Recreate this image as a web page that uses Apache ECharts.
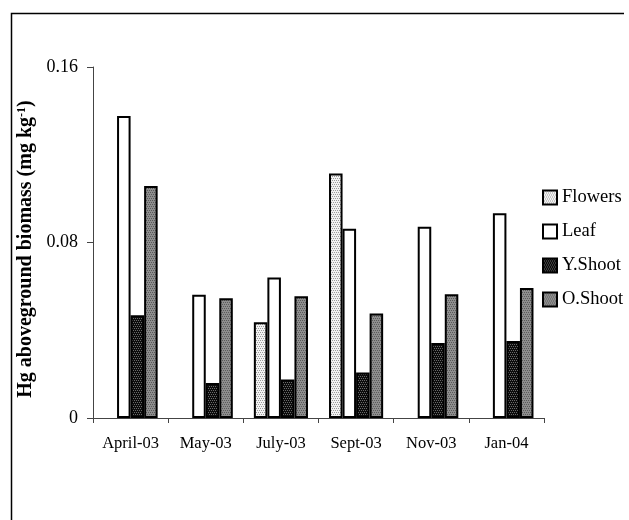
<!DOCTYPE html>
<html>
<head>
<meta charset="utf-8">
<script src="https://cdn.jsdelivr.net/npm/echarts@6/dist/echarts.min.js"></script>
<style>
  html, body { margin: 0; padding: 0; background: #fff; }
  #chart { width: 629px; height: 520px; }
</style>
</head>
<body>
<div id="chart"></div>
<script>
// Sampling dates
var months = ['April-03', 'May-03', 'July-03', 'Sept-03', 'Nov-03', 'Jan-04'];
// Hg content of aboveground biomass (mg kg-1) per plant part
var flowers = [null, null, 0.0436, 0.1115, null, null];
var leaf    = [0.1377, 0.0562, 0.0640, 0.0863, 0.0872, 0.0933];
var yShoot  = [0.0468, 0.0160, 0.0176, 0.0207, 0.0342, 0.0351];
var oShoot  = [0.1058, 0.0546, 0.0555, 0.0476, 0.0564, 0.0593];
var yTicks  = [0, 0.08, 0.16];

// small stipple fills for the bars
function stipple(bg, dot) {
  var c = document.createElement('canvas');
  c.width = 4; c.height = 4;
  var g = c.getContext('2d');
  g.fillStyle = bg; g.fillRect(0, 0, 4, 4);
  g.fillStyle = dot;
  g.fillRect(0, 0, 1, 1); g.fillRect(2, 0, 1, 1);
  g.fillRect(1, 2, 1, 1); g.fillRect(3, 2, 1, 1);
  return { image: c, repeat: 'repeat' };
}

var serif = '"Liberation Serif", "DejaVu Serif", serif';

function barSeries(name, data, fill) {
  return {
    name: name,
    type: 'bar',
    data: data,
    barGap: '0%',
    barCategoryGap: '28%',
    itemStyle: { color: fill, borderColor: '#000', borderWidth: 2 },
    emphasis: { disabled: true }
  };
}

var chart = echarts.init(document.getElementById('chart'), null, { renderer: 'canvas' });
chart.setOption({
  animation: false,
  backgroundColor: '#fff',
  textStyle: { fontFamily: serif },
  grid: { left: 93, top: 67, right: 85, bottom: 102 },
  legend: {
    orient: 'vertical',
    left: 537,
    top: 183,
    icon: 'rect',
    itemWidth: 14,
    itemHeight: 14,
    itemGap: 15,
    textStyle: { fontFamily: serif, fontSize: 18.5, color: '#000' },
    data: ['Flowers', 'Leaf', 'Y.Shoot', 'O.Shoot']
  },
  xAxis: {
    type: 'category',
    data: months,
    axisLine: { lineStyle: { color: '#444', width: 1 } },
    axisTick: { show: true, interval: 0, length: 5, lineStyle: { color: '#444' } },
    axisLabel: { interval: 0, color: '#000', fontFamily: serif, fontSize: 16.5, margin: 17 }
  },
  yAxis: {
    type: 'value',
    min: 0,
    max: 0.16,
    interval: 0.08,
    name: 'Hg aboveground biomass (mg kg{sup|-1})',
    nameLocation: 'middle',
    nameGap: 49,
    nameTextStyle: {
      fontFamily: serif, fontSize: 20, fontWeight: 'bold', color: '#000',
      padding: [0, 13, 0, 0],
      rich: {
        sup: { fontFamily: serif, fontSize: 12, fontWeight: 'bold', color: '#000', verticalAlign: 'top', padding: [0, 0, 8, 0] }
      }
    },
    axisLine: { show: true, lineStyle: { color: '#444', width: 1 } },
    axisTick: { show: true, length: 6, lineStyle: { color: '#444' } },
    splitLine: { show: false },
    axisLabel: {
      color: '#000', fontFamily: serif, fontSize: 18, margin: 15,
      formatter: function (v) {
        for (var i = 0; i < yTicks.length; i++) {
          if (Math.abs(v - yTicks[i]) < 1e-9) return String(yTicks[i]);
        }
        return '';
      }
    }
  },
  series: [
    barSeries('Flowers', flowers, stipple('#f2f2f2', '#9a9a9a')),
    barSeries('Leaf', leaf, '#ffffff'),
    barSeries('Y.Shoot', yShoot, stipple('#0c0c0c', '#6a6a6a')),
    barSeries('O.Shoot', oShoot, stipple('#8e8e8e', '#5a5a5a'))
  ],
  graphic: [
    {
      type: 'polyline',
      silent: true,
      shape: { points: [[11.5, 530], [11.5, 13.5], [624, 13.5]] },
      style: { stroke: '#000', lineWidth: 1.5, fill: null }
    }
  ]
});
</script>
</body>
</html>
